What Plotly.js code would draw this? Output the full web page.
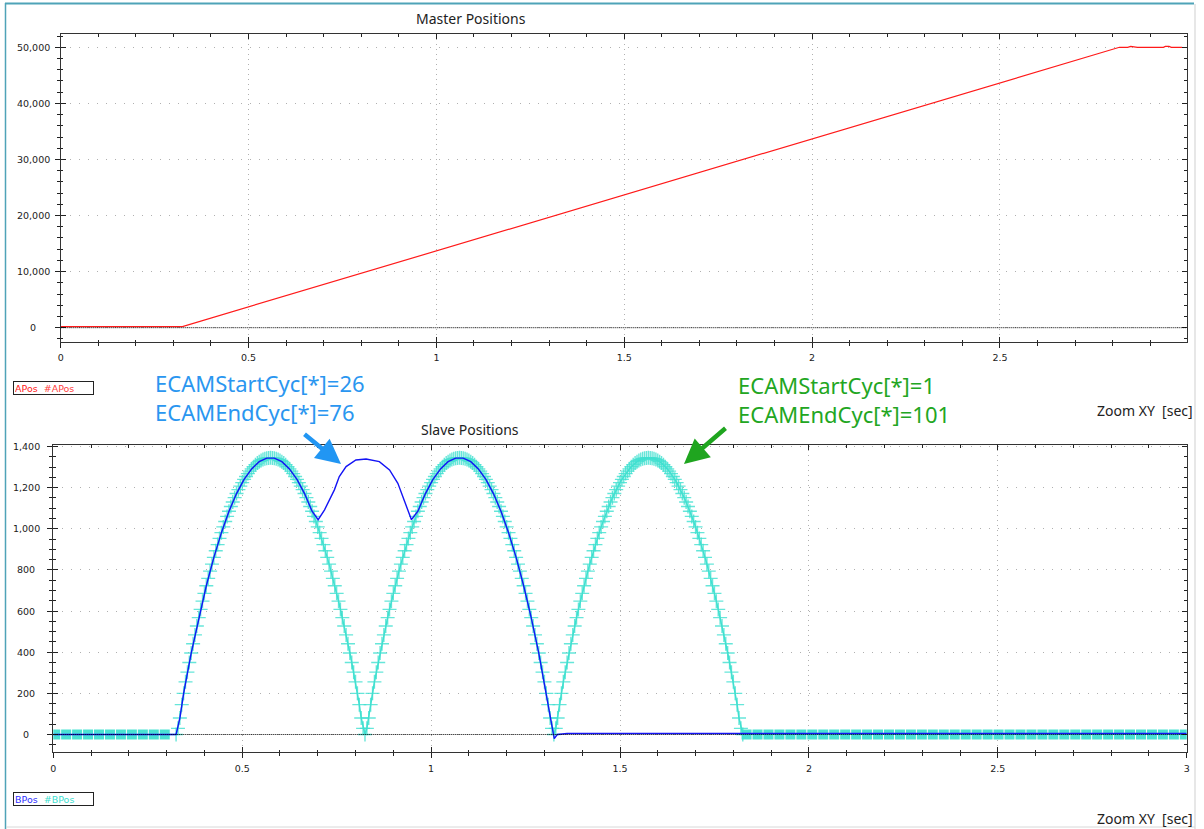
<!DOCTYPE html>
<html><head><meta charset="utf-8">
<script src="https://cdn.plot.ly/plotly-3.0.1.min.js"></script>
<style>html,body{margin:0;padding:0;background:#fff;}#chart{width:1204px;height:829px;}</style>
</head><body><div id="chart"></div>
<script>
const W = 1204, H = 829;

// ---- Master positions (APos) ----
const aTime = [0, 0.324, 2.818, 2.84, 2.848, 2.858, 2.866, 2.935, 2.94, 2.95, 2.956, 2.985];
const aPos  = [200, 200, 50000, 50000, 50150, 50120, 50000, 50000, 50150, 50150, 50000, 50000];

// ---- Slave actual position (BPos) ----
const bTime = [0, 0.325, 0.335, 0.345, 0.365, 0.385, 0.405, 0.425, 0.445, 0.465, 0.485, 0.505, 0.525, 0.545, 0.565, 0.585, 0.605, 0.625, 0.645, 0.665, 0.685,
  0.701, 0.718, 0.744, 0.757, 0.775, 0.801, 0.828, 0.863, 0.890, 0.912, 0.930, 0.948,
  0.965, 0.985, 1.005, 1.025, 1.045, 1.065, 1.085, 1.105, 1.125, 1.145, 1.165, 1.185, 1.205, 1.225, 1.245, 1.265, 1.285, 1.305, 1.318, 1.326, 1.334, 1.345, 1.36, 1.40, 1.6, 1.9, 2.3, 2.7, 3.0];
const bPos  = [0, 0, 80, 200, 396, 568, 723, 861, 981, 1085, 1171, 1240, 1291, 1326, 1343, 1343, 1326, 1291, 1240, 1171, 1085,
  1044, 1092, 1189, 1254, 1302, 1334, 1339, 1326, 1286, 1221, 1132, 1044,
  1085, 1171, 1240, 1291, 1326, 1343, 1343, 1326, 1291, 1240, 1171, 1085, 981, 861, 723, 568, 396, 195, 80, -20, 0, 3, 5, 5, 5, 5, 5, 5, 5];

// ---- Slave target position (#BPos): one cam cycle, repeated for the 3 cycles ----
const camStart = 0.325, camStep = 0.005;
const camProfile = [0, 30, 80, 145, 200, 256, 303, 350, 396, 441, 484, 527, 568, 608, 648, 686, 723, 759, 794, 828,
  861, 893, 923, 953, 981, 1009, 1035, 1060, 1085, 1108, 1130, 1151, 1171, 1190, 1207, 1224, 1240, 1254, 1268, 1280,
  1291, 1301, 1311, 1319, 1326, 1332, 1336, 1340, 1343, 1344, 1345,
  1344, 1343, 1340, 1336, 1332, 1326, 1319, 1311, 1301, 1291, 1280, 1268, 1254, 1240, 1224, 1207, 1190, 1171, 1151,
  1130, 1108, 1085, 1060, 1035, 1009, 981, 953, 923, 893, 861, 828, 794, 759, 723, 686, 648, 608, 568, 527,
  484, 441, 396, 350, 303, 256, 200, 145, 80, 30, 0];
const camCycles = 3;
const idleStep = 0.029;
const idleBeforeStart = 0.005;
const idleBefore = [0, 0, 0, 0, 0, 0, 0, 0, 0, 0, 0];
const idleAfterStart = 1.835;
const idleAfter = [0, 0, 0, 0, 0, 0, 0, 0, 0, 0, 0, 0, 0, 0, 0, 0, 0, 0, 0, 0, 0, 0, 0, 0, 0, 0, 0, 0, 0, 0, 0, 0, 0, 0, 0, 0, 0, 0, 0, 0, 0];

// ---- Ticks ----
const masterXTicks = [0, 0.5, 1, 1.5, 2, 2.5];
const slaveXTicks = [0, 0.5, 1, 1.5, 2, 2.5, 3];
const masterYTicks = [0, 10000, 20000, 30000, 40000, 50000];
const masterYLabels = ['0', '10,000', '20,000', '30,000', '40,000', '50,000'];
const slaveYTicks = [0, 200, 400, 600, 800, 1000, 1200, 1400];
const slaveYLabels = ['0', '200', '400', '600', '800', '1,000', '1,200', '1,400'];

let camSeries = camProfile.slice();
for (let c = 1; c < camCycles; c++) camSeries = camSeries.concat(camProfile.slice(1));

const CYAN = '#40E0D0', BLUE = '#1414F5', RED = '#FF1A1A';
const tickFont = {family: 'DejaVu Sans, Verdana, sans-serif', size: 9.5, color: '#222'};
const px = x => x / W, py = y => 1 - y / H;

function mainX(domain, range, tickvals, minorD) {
  return {domain, range, anchor: null, tickmode: 'array', tickvals, ticktext: tickvals.map(String),
    ticks: 'outside', ticklen: 5, tickwidth: 1, tickcolor: '#222', showline: true, linecolor: '#333', linewidth: 1, mirror: true,
    showgrid: true, gridcolor: '#b0b0b0', gridwidth: 1, griddash: '1px,4px', zeroline: false,
    minor: {ticks: 'outside', ticklen: 3, tickmode: 'linear', tick0: 0, dtick: minorD, tickcolor: '#222', showgrid: false},
    tickfont: tickFont, ticklabelstandoff: 2, fixedrange: true};
}
function mainY(domain, range, tickvals, minorD) {
  return {domain, range, tickmode: 'array', tickvals, showticklabels: false,
    ticks: 'outside', ticklen: 5, tickwidth: 1, tickcolor: '#222', showline: true, linecolor: '#333', linewidth: 1, mirror: true,
    showgrid: true, gridcolor: '#b0b0b0', gridwidth: 1, griddash: '1px,8px', zeroline: false,
    minor: {ticks: 'outside', ticklen: 3, tickmode: 'linear', tick0: 0, dtick: minorD, tickcolor: '#222', showgrid: false},
    fixedrange: true};
}
function overlayAxis(over, anchor, range, tickvals, minorD) {
  return {overlaying: over, anchor, range, tickmode: 'array', tickvals, showticklabels: false,
    ticks: 'inside', ticklen: 5, tickwidth: 1, tickcolor: '#222', showline: true, linecolor: '#333', linewidth: 1, mirror: 'ticks',
    showgrid: false, zeroline: false,
    minor: {ticks: 'inside', ticklen: 2.5, tickmode: 'linear', tick0: 0, dtick: minorD, tickcolor: '#222', showgrid: false},
    fixedrange: true};
}

const topX = [px(60.7), px(1186.7)], topY = [py(342), py(34)];
const botX = [px(53.3), px(1186.7)], botY = [py(752.3), py(445)];
const topXR = [0, 2.997], topYR = [-2550, 52370];
const botXR = [0, 3], botYR = [-86.5, 1407];

const traces = [
  {x: aTime, y: aPos, mode: 'lines', line: {color: RED, width: 1.2}, xaxis: 'x', yaxis: 'y', name: 'APos'},
  {x0: idleBeforeStart, dx: idleStep, y: idleBefore, mode: 'lines+markers', xaxis: 'x2', yaxis: 'y2', name: '#BPos',
    line: {color: CYAN, width: 1}, marker: {symbol: 'square', size: 10, color: CYAN, opacity: 0.95, line: {width: 0}}},
  {x0: camStart, dx: camStep, y: camSeries, mode: 'lines+markers', xaxis: 'x2', yaxis: 'y2', name: '#BPos',
    line: {color: CYAN, width: 1.5}, marker: {symbol: 'cross-thin-open', size: 10, color: CYAN, opacity: 0.8, line: {width: 1.4, color: CYAN}}},
  {x0: idleAfterStart, dx: idleStep, y: idleAfter, mode: 'lines+markers', xaxis: 'x2', yaxis: 'y2', name: '#BPos',
    line: {color: CYAN, width: 1}, marker: {symbol: 'square', size: 10, color: CYAN, opacity: 0.95, line: {width: 0}}},
  {x: bTime, y: bPos, mode: 'lines', line: {color: BLUE, width: 1.4}, xaxis: 'x2', yaxis: 'y2', name: 'BPos'},
  {x: [], y: [], xaxis: 'x3', yaxis: 'y3', hoverinfo: 'skip', showlegend: false},
  {x: [], y: [], xaxis: 'x4', yaxis: 'y4', hoverinfo: 'skip', showlegend: false}
];

const xa1 = mainX(topX, topXR, masterXTicks, 0.1); xa1.anchor = 'y';
const xa2 = mainX(botX, botXR, slaveXTicks, 0.1); xa2.anchor = 'y2';
const ya1 = mainY(topY, topYR, masterYTicks, 2000); ya1.anchor = 'x';
const ya2 = mainY(botY, botYR, slaveYTicks, 50); ya2.anchor = 'x2';

const annotations = [];
masterYTicks.forEach((v, i) => annotations.push({xref: 'paper', yref: 'y', x: px(33), y: v, text: masterYLabels[i],
  showarrow: false, xanchor: 'center', yanchor: 'middle', font: tickFont}));
slaveYTicks.forEach((v, i) => annotations.push({xref: 'paper', yref: 'y2', x: px(26), y: v, text: slaveYLabels[i],
  showarrow: false, xanchor: 'center', yanchor: 'middle', font: tickFont}));

const titleFont = {family: 'Noto Sans, Open Sans, sans-serif', size: 14, color: '#222'};
annotations.push(
  {xref: 'paper', yref: 'paper', x: px(471), y: py(18), text: 'Master Positions', showarrow: false, xanchor: 'center', yanchor: 'middle', font: titleFont},
  {xref: 'paper', yref: 'paper', x: px(470), y: py(429), text: 'Slave Positions', showarrow: false, xanchor: 'center', yanchor: 'middle', font: titleFont},
  {xref: 'paper', yref: 'paper', x: px(1195), y: py(410), text: 'Zoom XY\u00a0\u00a0[sec]', showarrow: false, xanchor: 'right', yanchor: 'middle', font: titleFont},
  {xref: 'paper', yref: 'paper', x: px(1195), y: py(818), text: 'Zoom XY\u00a0\u00a0[sec]', showarrow: false, xanchor: 'right', yanchor: 'middle', font: titleFont},
  {xref: 'paper', yref: 'paper', x: px(13), y: py(388), text: '<span style="color:#FF2020">APos</span>\u00a0\u00a0<span style="color:#FF4040">#APos</span>',
    showarrow: false, xanchor: 'left', yanchor: 'middle', align: 'left', width: 77, height: 10, bordercolor: '#222', borderwidth: 1, borderpad: 1, bgcolor: '#fff',
    font: {family: 'DejaVu Sans, Verdana, sans-serif', size: 9.5, color: '#FF2020'}},
  {xref: 'paper', yref: 'paper', x: px(13), y: py(799), text: '<span style="color:#3030FF">BPos</span>\u00a0\u00a0<span style="color:#40E0D0">#BPos</span>',
    showarrow: false, xanchor: 'left', yanchor: 'middle', align: 'left', width: 77, height: 10, bordercolor: '#222', borderwidth: 1, borderpad: 1, bgcolor: '#fff',
    font: {family: 'DejaVu Sans, Verdana, sans-serif', size: 9.5, color: '#3030FF'}},
  {xref: 'paper', yref: 'paper', x: px(153), y: py(397), text: 'ECAMStartCyc[*]=26<br>ECAMEndCyc[*]=76', showarrow: false, xanchor: 'left', yanchor: 'middle', align: 'left',
    font: {family: 'Noto Sans, Open Sans, sans-serif', size: 22, color: '#2A96F0'}},
  {xref: 'paper', yref: 'paper', x: px(736), y: py(400), text: 'ECAMStartCyc[*]=1<br>ECAMEndCyc[*]=101', showarrow: false, xanchor: 'left', yanchor: 'middle', align: 'left',
    font: {family: 'Noto Sans, Open Sans, sans-serif', size: 22, color: '#22A622'}},
  {xref: 'paper', yref: 'paper', x: px(341), y: py(464), text: '', showarrow: true, ax: -38, ay: -31, arrowhead: 2, arrowsize: 1.1, arrowwidth: 4.5, arrowcolor: '#2196F3'},
  {xref: 'paper', yref: 'paper', x: px(684), y: py(464), text: '', showarrow: true, ax: 43, ay: -37, arrowhead: 2, arrowsize: 1.1, arrowwidth: 4.5, arrowcolor: '#1FA51F'}
);

const shapes = [
  {type: 'line', xref: 'x domain', yref: 'y', x0: 0, x1: 1, y0: 0, y1: 0, line: {color: '#000', width: 1, dash: '1px,1px'}, layer: 'above'},
  {type: 'line', xref: 'x2 domain', yref: 'y2', x0: 0, x1: 1, y0: 0, y1: 0, line: {color: '#000', width: 1, dash: '1px,1px'}, layer: 'above'},
  {type: 'line', xref: 'paper', yref: 'paper', x0: px(5), x1: px(1194), y0: py(3.5), y1: py(3.5), line: {color: '#4FA3B8', width: 2}},
  {type: 'line', xref: 'paper', yref: 'paper', x0: px(5.5), x1: px(5.5), y0: py(3), y1: 0, line: {color: '#4FA3B8', width: 1.5}},
  {type: 'line', xref: 'paper', yref: 'paper', x0: px(1195), x1: px(1195), y0: py(4), y1: 0, line: {color: '#cfcfcf', width: 1}},
  {type: 'line', xref: 'paper', yref: 'paper', x0: px(6), x1: px(1195), y0: py(827), y1: py(827), line: {color: '#d8d8d8', width: 1}}
];

const layout = {
  width: W, height: H, margin: {l: 0, r: 0, t: 0, b: 0}, paper_bgcolor: '#fff', plot_bgcolor: '#fff', showlegend: false,
  xaxis: xa1, yaxis: ya1, xaxis2: xa2, yaxis2: ya2,
  xaxis3: overlayAxis('x', 'y3', topXR, masterXTicks, 0.1),
  yaxis3: overlayAxis('y', 'x3', topYR, masterYTicks, 2000),
  xaxis4: overlayAxis('x2', 'y4', botXR, slaveXTicks, 0.1),
  yaxis4: overlayAxis('y2', 'x4', botYR, slaveYTicks, 50),
  annotations, shapes, hovermode: false
};
Plotly.newPlot('chart', traces, layout, {staticPlot: true, displayModeBar: false});
</script></body></html>
